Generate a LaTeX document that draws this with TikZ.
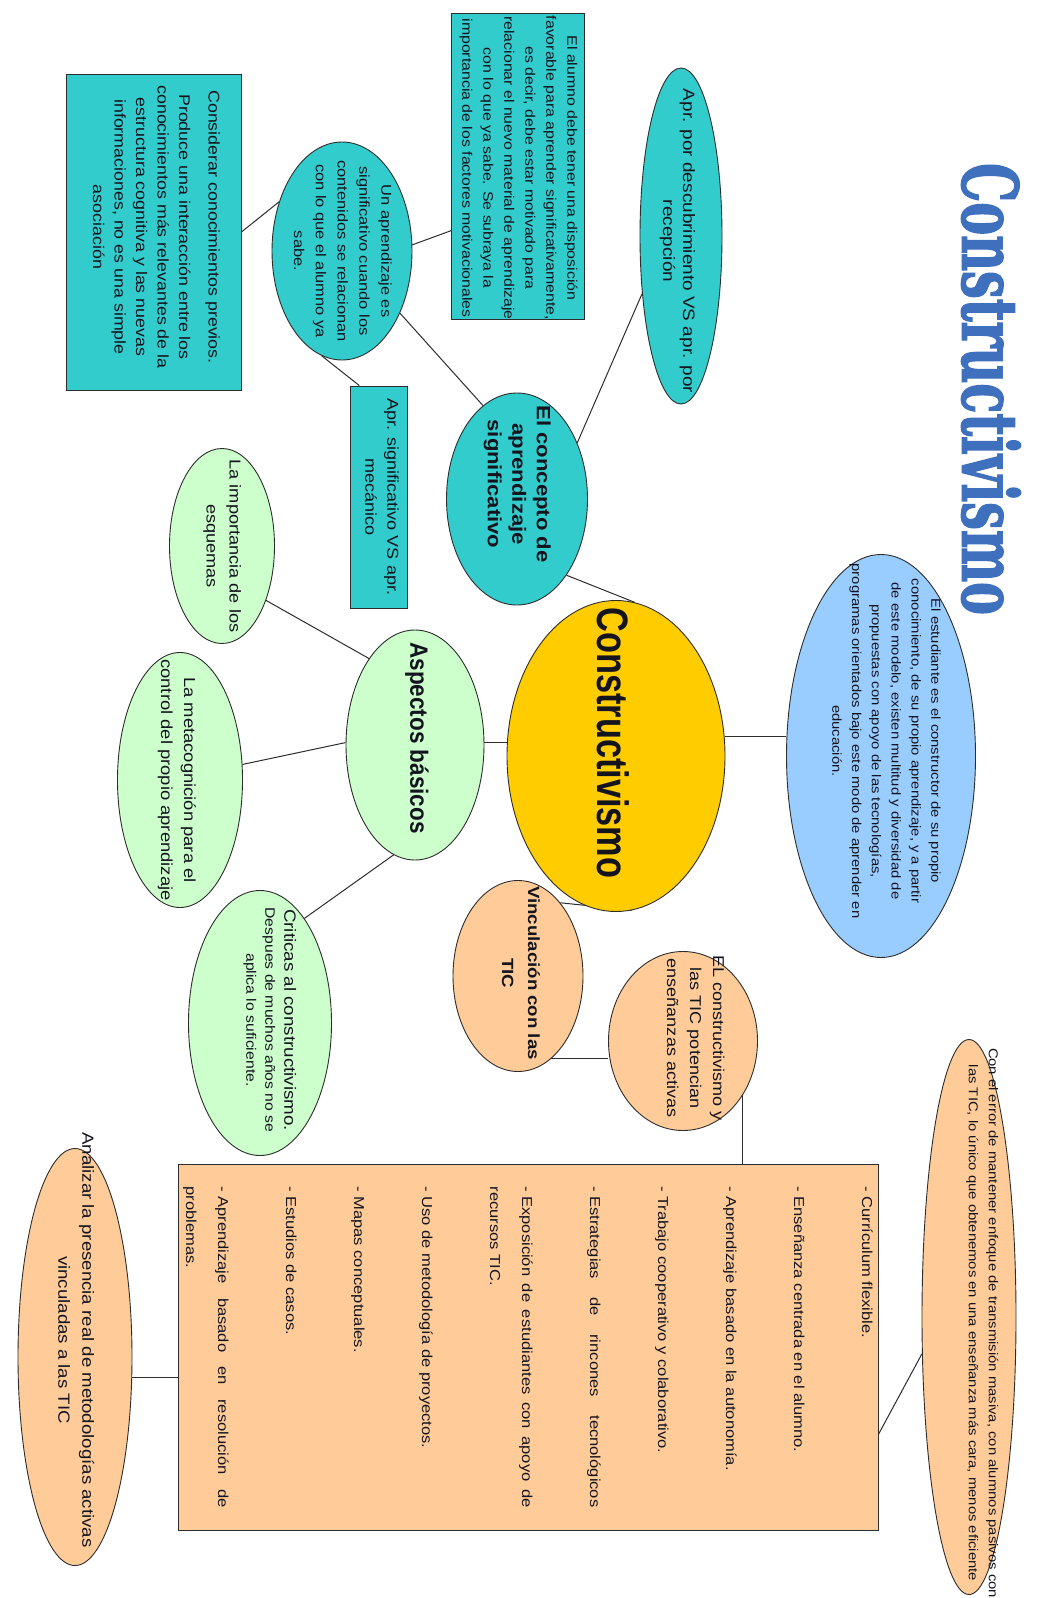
\documentclass[tikz,border=0pt]{standalone}
\usepackage{fontspec}
\setmainfont{Liberation Sans}[FakeStretch=1.15]
\newfontfamily\titlefont{DejaVu Serif}[FakeStretch=0.64,FakeBold=1.6]
\newfontfamily\hubfont{Liberation Sans}[FakeStretch=0.78]
\newfontfamily\aspfont{Liberation Sans}[FakeStretch=0.9]
\usetikzlibrary{shapes.geometric}

\definecolor{cTeal}{RGB}{51,204,204}
\definecolor{cYellow}{RGB}{255,204,0}
\definecolor{cBlue}{RGB}{153,204,255}
\definecolor{cGreen}{RGB}{204,255,204}
\definecolor{cOrange}{RGB}{255,204,153}
\definecolor{cTitle}{RGB}{62,112,190}
\definecolor{cLine}{RGB}{45,45,45}
\definecolor{cInk}{RGB}{20,20,30}

% centred multi-line text of zero size, optionally shifted along / across the line
\NewDocumentCommand\zt{O{0pt}O{0pt}m}{\makebox[0pt]{\hspace*{#1}\hspace*{#1}%
  \smash{\raisebox{\dimexpr#2-.25em\relax}{\begin{tabular}{@{}c@{}}#3\end{tabular}}}}}
\newcommand\fs[2]{\fontsize{#1}{#2}\selectfont}
\newcommand\itm{-\hspace*{.3em}}

\pgfdeclarelayer{paper}
\pgfdeclarelayer{wires}
\pgfsetlayers{paper,wires,main}

\begin{document}
\begin{tikzpicture}[x=1pt,y=-1pt,
  shp/.style={rotate=-90, draw=cLine, line width=0.9pt, inner sep=0pt, text=cInk},
  tbox/.style={shp, rectangle, fill=cTeal},
  tell/.style={shp, ellipse, fill=cTeal},
  gell/.style={shp, ellipse, fill=cGreen},
  oell/.style={shp, ellipse, fill=cOrange},
  link/.style={draw=cLine, line width=1pt}]

\useasboundingbox (0,0) rectangle (1036,1598);
\begin{pgfonlayer}{paper}
  \fill[white] (0,0) rectangle (1036,1598);
\end{pgfonlayer}

% title
\node[rotate=-90, inner sep=0pt, text=cTitle,
      font=\titlefont\bfseries\fontsize{77}{80}\selectfont] (titulo) at (991,389) {Constructivismo};

% teal branch
\node[tbox, minimum width=306pt, minimum height=133pt, font=\fs{13.8}{21}] (motiv) at (518,166)
  {\zt[2pt][1pt]{El alumno debe tener una disposición\\favorable para aprender significativamente,\\es decir, debe estar motivado para\\relacionar el nuevo material de aprendizaje\\con lo que ya sabe. Se subraya la\\importancia de los factores motivacionales}};
\node[tbox, minimum width=316pt, minimum height=175pt, font=\fs{15.5}{21.5}] (prev) at (153.5,232)
  {\zt[-5pt][2pt]{Considerar conocimientos previos.\\[8pt]Produce una interacción entre los\\conocimientos más relevantes de la\\estructura cognitiva y las nuevas\\informaciones, no es una simple\\asociación}};
\node[tell, minimum width=218pt, minimum height=140pt, font=\fs{14.3}{21.8}] (signif) at (342,251)
  {\zt{Un aprendizaje es\\significativo cuando los\\contenidos se relacionan\\con lo que el alumno ya\\sabe.}};
\node[tell, minimum width=336pt, minimum height=82pt, font=\fs{16.5}{20}] (descub) at (681,236)
  {\zt[5pt][-4pt]{Apr. por descubrimiento VS apr. por\\recepción}};
\node[tell, minimum width=212pt, minimum height=141pt, font=\bfseries\fs{19.2}{24.5}] (concepto) at (517,499)
  {\zt[-15pt]{El concepto de\\aprendizaje\\significativo}};
\node[tbox, minimum width=222pt, minimum height=57pt, font=\fs{15.7}{22}] (mecanico) at (379,497)
  {\zt[0pt][2pt]{Apr. significativo VS apr.\\mecánico}};

% centre and description
\node[shp, ellipse, fill=cYellow, minimum width=311pt, minimum height=218pt,
      font=\hubfont\bfseries\fs{44}{48}] (centro) at (616,756) {\zt[-13pt][-4pt]{Constructivismo}};
\node[shp, ellipse, fill=cBlue, minimum width=403pt, minimum height=189pt, font=\fs{12.9}{19.8}] (estudiante) at (881,756)
  {\zt[-15pt][5pt]{El estudiante es el constructor de su propio\\conocimiento, de su propio aprendizaje, y a partir\\de este modelo, existen multitud y diversidad de\\propuestas con apoyo de las tecnologías,\\programas orientados bajo este modo de aprender en\\educación.}};

% green branch
\node[gell, minimum width=230pt, minimum height=138pt, font=\aspfont\bfseries\fs{25}{28}] (aspectos) at (415,745)
  {\zt[-7pt][1pt]{Aspectos básicos}};
\node[gell, minimum width=195pt, minimum height=105pt, font=\fs{15.8}{23}] (esquemas) at (222,546)
  {\zt[0pt][1pt]{La importancia de los\\esquemas}};
\node[gell, minimum width=255pt, minimum height=125pt, font=\fs{16}{23}] (metacog) at (180,780)
  {\zt[0pt][-3pt]{La metacognición para el\\control del propio aprendizaje}};
\node[gell, minimum width=265pt, minimum height=143pt, font=\fs{13.7}{19}] (criticas) at (260,1023)
  {\zt[-3pt][9pt]{{\fs{16.3}{19}Criticas al constructivismo.}\\Despues de muchos años no se\\aplica lo suficiente.}};

% orange branch
\node[oell, minimum width=191pt, minimum height=130pt, font=\bfseries\fs{16.2}{26}] (vinculo) at (518,976)
  {\zt[-3pt][2pt]{Vinculación con las\\TIC}};
\node[oell, minimum width=179pt, minimum height=149pt, font=\fs{15.7}{23}] (potencian) at (683,1041)
  {\zt[-3pt][12pt]{EL constructivismo y\\las TIC potencian\\enseñanzas activas}};
\node[shp, rectangle, fill=cOrange, minimum width=366pt, minimum height=700pt,
      text width=321pt, align=justify, font=\fs{14.4}{32}] (metodos) at (528,1347)
  {\itm Currículum flexible.\par\vspace{36pt}
   \itm Enseñanza centrada en el alumno.\par\vspace{36pt}
   \itm Aprendizaje basado en la autonomía.\par\vspace{36pt}
   \itm Trabajo cooperativo y colaborativo.\par\vspace{36pt}
   \itm Estrategias\hfill de\hfill rincones\hfill tecnológicos\par\vspace{36pt}
   \itm Exposición de estudiantes con apoyo de\linebreak recursos TIC.\par\vspace{36pt}
   \itm Uso de metodología de proyectos.\par\vspace{36pt}
   \itm Mapas conceptuales.\par\vspace{36pt}
   \itm Estudios de casos.\par\vspace{36pt}
   \itm Aprendizaje basado en resolución de\linebreak problemas.\par};
\node[oell, minimum width=555pt, minimum height=94pt, font=\fs{12.9}{20}] (error) at (969,1317)
  {\zt[6pt][14pt]{Con el error de mantener enfoque de transmisión masiva, con alumnos pasivos con\\las TIC, lo único que obtenemos en una enseñanza más cara, menos eficiente}};
\node[oell, minimum width=417pt, minimum height=114pt, font=\fs{16.2}{24}] (analizar) at (75,1357)
  {\zt[-17pt]{Analizar la presencia real de metodologías activas\\vinculadas a las TIC}};

% connectors
\begin{pgfonlayer}{wires}
  \draw[link] (concepto.33) -- (centro.173);
  \draw[link] (concepto.133) -- (descub.-34);
  \draw[link] (concepto.200) -- (signif.43);
  \draw[link] (signif.95) -- (motiv.-46);
  \draw[link] (signif.-128) -- (prev.north);
  \draw[link] (signif.-11) -- (mecanico.190);
  \draw[link] (centro.100) -- (centro.100 -| estudiante.south);
  \draw[link] (aspectos.92) -- (aspectos.92 -| centro.south);
  \draw[link] (aspectos.-152) -- (esquemas.39);
  \draw[link] (aspectos.-92) -- (metacog.104);
  \draw[link] (aspectos.-11) -- (criticas.157);
  \draw[link] (centro.6) -- (vinculo.150);
  \draw[link] (vinculo.22) -- (vinculo.22 -| potencian.south);
  \draw[link] (potencian.48) -- (potencian.48 |- metodos.west);
  \draw[link] (metodos.76) -- (error.-52);
  \draw[link] (metodos.-85) -- (metodos.-85 -| analizar.north);
\end{pgfonlayer}
\end{tikzpicture}
\end{document}
